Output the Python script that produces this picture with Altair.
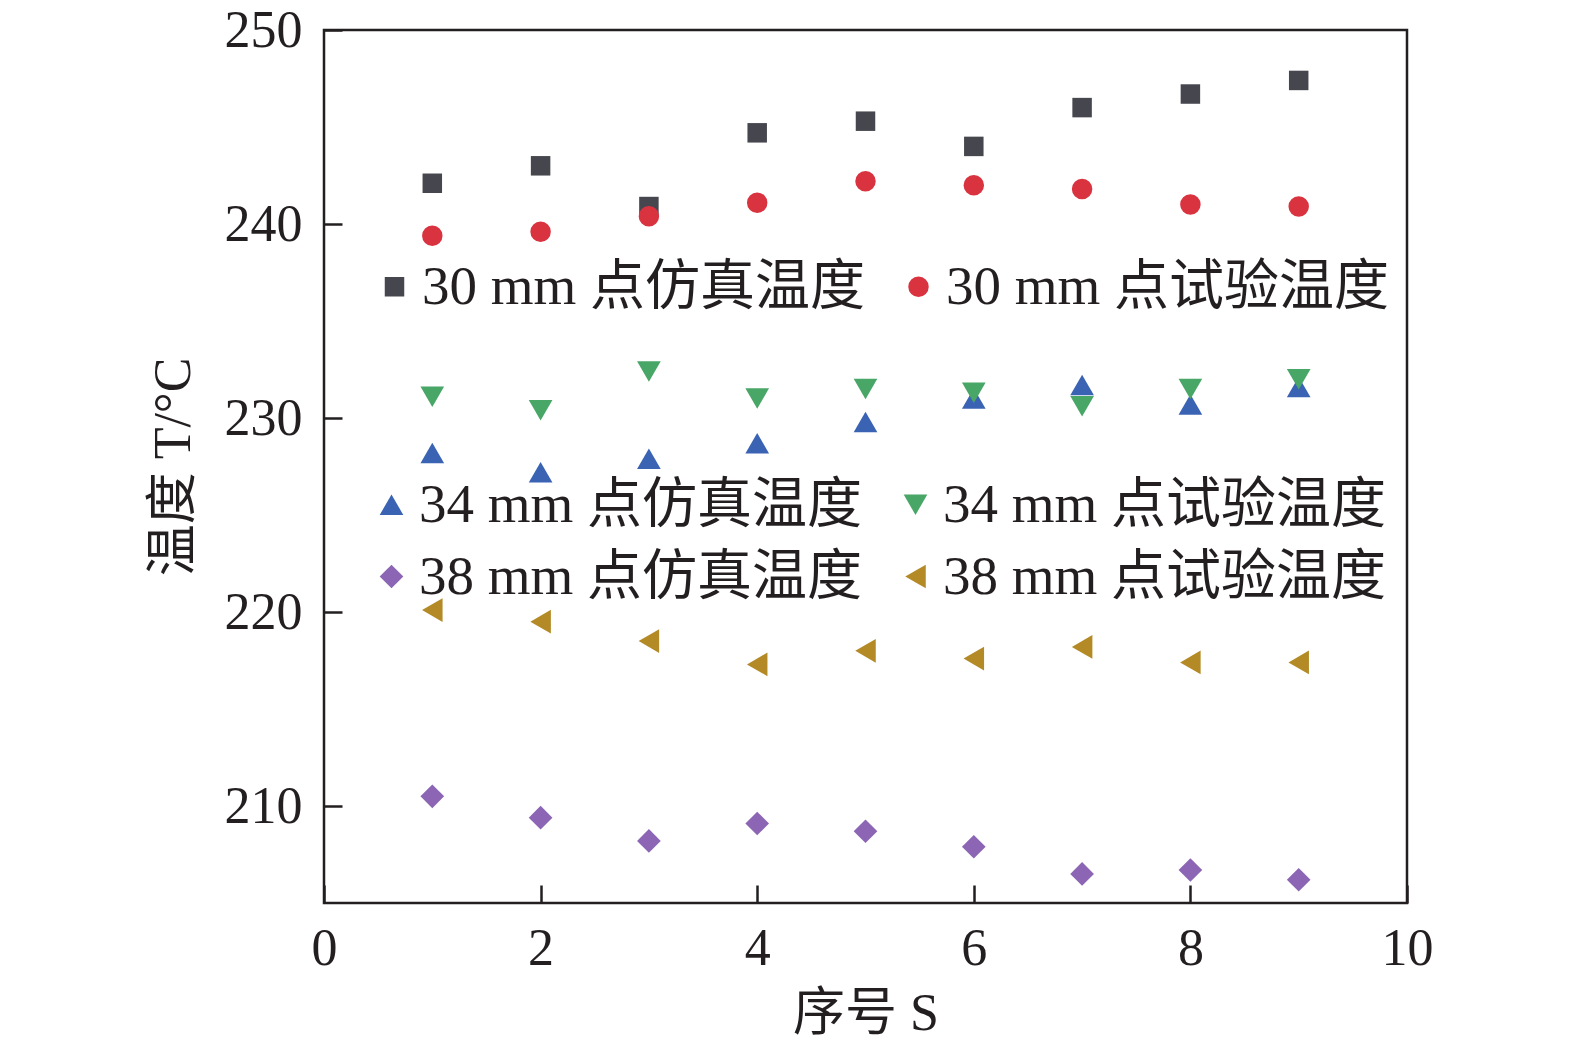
import altair as alt
import pandas as pd

S = [1, 2, 3, 4, 5, 6, 7, 8, 9]

sim30 = [242.1, 243.0, 240.9, 244.7, 245.3, 244.0, 246.0, 246.7, 247.4]
test30 = [239.4, 239.6, 240.4, 241.1, 242.2, 242.0, 241.8, 241.0, 240.9]
sim34 = [228.2, 227.2, 227.9, 228.7, 229.8, 231.0, 231.7, 230.7, 231.6]
test34 = [231.1, 230.4, 232.4, 231.0, 231.5, 231.3, 230.6, 231.5, 232.0]
sim38 = [210.5, 209.4, 208.2, 209.1, 208.7, 207.9, 206.5, 206.7, 206.2]
test38 = [220.1, 219.5, 218.5, 217.3, 218.0, 217.6, 218.2, 217.4, 217.4]

names30 = ["30 mm 点仿真温度", "30 mm 点试验温度"]
names3438 = ["34 mm 点仿真温度", "34 mm 点试验温度", "38 mm 点仿真温度", "38 mm 点试验温度"]

colors30 = ["#46464e", "#d93340"]
colors3438 = ["#3a63b3", "#48a667", "#8c66b4", "#b38a26"]
shapes30 = ["square", "circle"]
shapes3438 = ["triangle-up", "triangle-down", "diamond", "triangle-left"]
sizes30 = [380, 420]
sizes3438 = [560, 560, 640, 500]

x_ticks = [0, 2, 4, 6, 8, 10]
y_ticks = [210, 220, 230, 240, 250]

FONT = "Liberation Serif, Noto Sans CJK SC"
W, H = 1083, 873


def long(names, series):
    rows = []
    for n, vals in zip(names, series):
        for s, v in zip(S, vals):
            rows.append({"S": s, "T": v, "series": n})
    return pd.DataFrame(rows)


df30 = long(names30, [sim30, test30])
df3438 = long(names3438, [sim34, test34, sim38, test38])

xs = alt.Scale(domain=[0, 10], nice=False, zero=False)
ys = alt.Scale(domain=[205, 250], nice=False, zero=False)

common_axis = dict(grid=False, labelFont=FONT, labelFontSize=52, labelColor="#231f20",
                   titleFont=FONT, titleFontSize=52, titleColor="#231f20",
                   titleFontWeight="normal", labelFlush=False)

legend_common = dict(orient="none", columns=2, title=None, labelFont=FONT, labelFontSize=55,
                     labelColor="#231f20", labelLimit=800, padding=0, symbolStrokeWidth=0,
                     direction="horizontal", labelOffset=0, columnPadding=25, rowPadding=16)

layerA = alt.Chart(df30).mark_point(filled=True, opacity=1, strokeWidth=0).encode(
    x=alt.X("S:Q", scale=xs, axis=alt.Axis(values=x_ticks, title="序号 S", ticks=False, domain=False,
                                          labelPadding=20, titlePadding=14, **common_axis)),
    y=alt.Y("T:Q", scale=ys, axis=alt.Axis(values=y_ticks, title="温度 T/°C", ticks=False, domain=False,
                                          labelPadding=22, titlePadding=24, **common_axis)),
    color=alt.Color("series:N", scale=alt.Scale(domain=names30, range=colors30),
                    legend=alt.Legend(legendX=43, legendY=229, **legend_common)),
    shape=alt.Shape("series:N", scale=alt.Scale(domain=names30, range=shapes30)),
    size=alt.Size("series:N", scale=alt.Scale(domain=names30, range=sizes30)),
)

layerB = alt.Chart(df3438).mark_point(filled=True, opacity=1, strokeWidth=0).encode(
    x=alt.X("S:Q", scale=xs, axis=alt.Axis(values=x_ticks, orient="top", offset=-H, labels=False,
                                          ticks=True, tickSize=18, tickWidth=2.5, tickColor="#231f20",
                                          domain=False, title=None, grid=False)),
    y=alt.Y("T:Q", scale=ys, axis=alt.Axis(values=y_ticks, orient="right", offset=-W, labels=False,
                                          ticks=True, tickSize=18, tickWidth=2.5, tickColor="#231f20",
                                          domain=False, title=None, grid=False)),
    color=alt.Color("series:N", scale=alt.Scale(domain=names3438, range=colors3438),
                    legend=alt.Legend(legendX=40, legendY=447, **legend_common)),
    shape=alt.Shape("series:N", scale=alt.Scale(domain=names3438, range=shapes3438)),
    size=alt.Size("series:N", scale=alt.Scale(domain=names3438, range=sizes3438)),
)

chart = alt.layer(layerA, layerB).resolve_scale(
    color="independent", shape="independent", size="independent"
).resolve_axis(
    x="independent", y="independent"
).properties(
    width=W, height=H,
    autosize=alt.AutoSizeParams(type="none"),
    padding={"left": 316, "top": 22, "right": 140, "bottom": 138},
    background="white",
).configure_view(
    stroke="#231f20", strokeWidth=2.5
)

chart.save("out.html", embed_options={"renderer": "svg", "actions": False})
